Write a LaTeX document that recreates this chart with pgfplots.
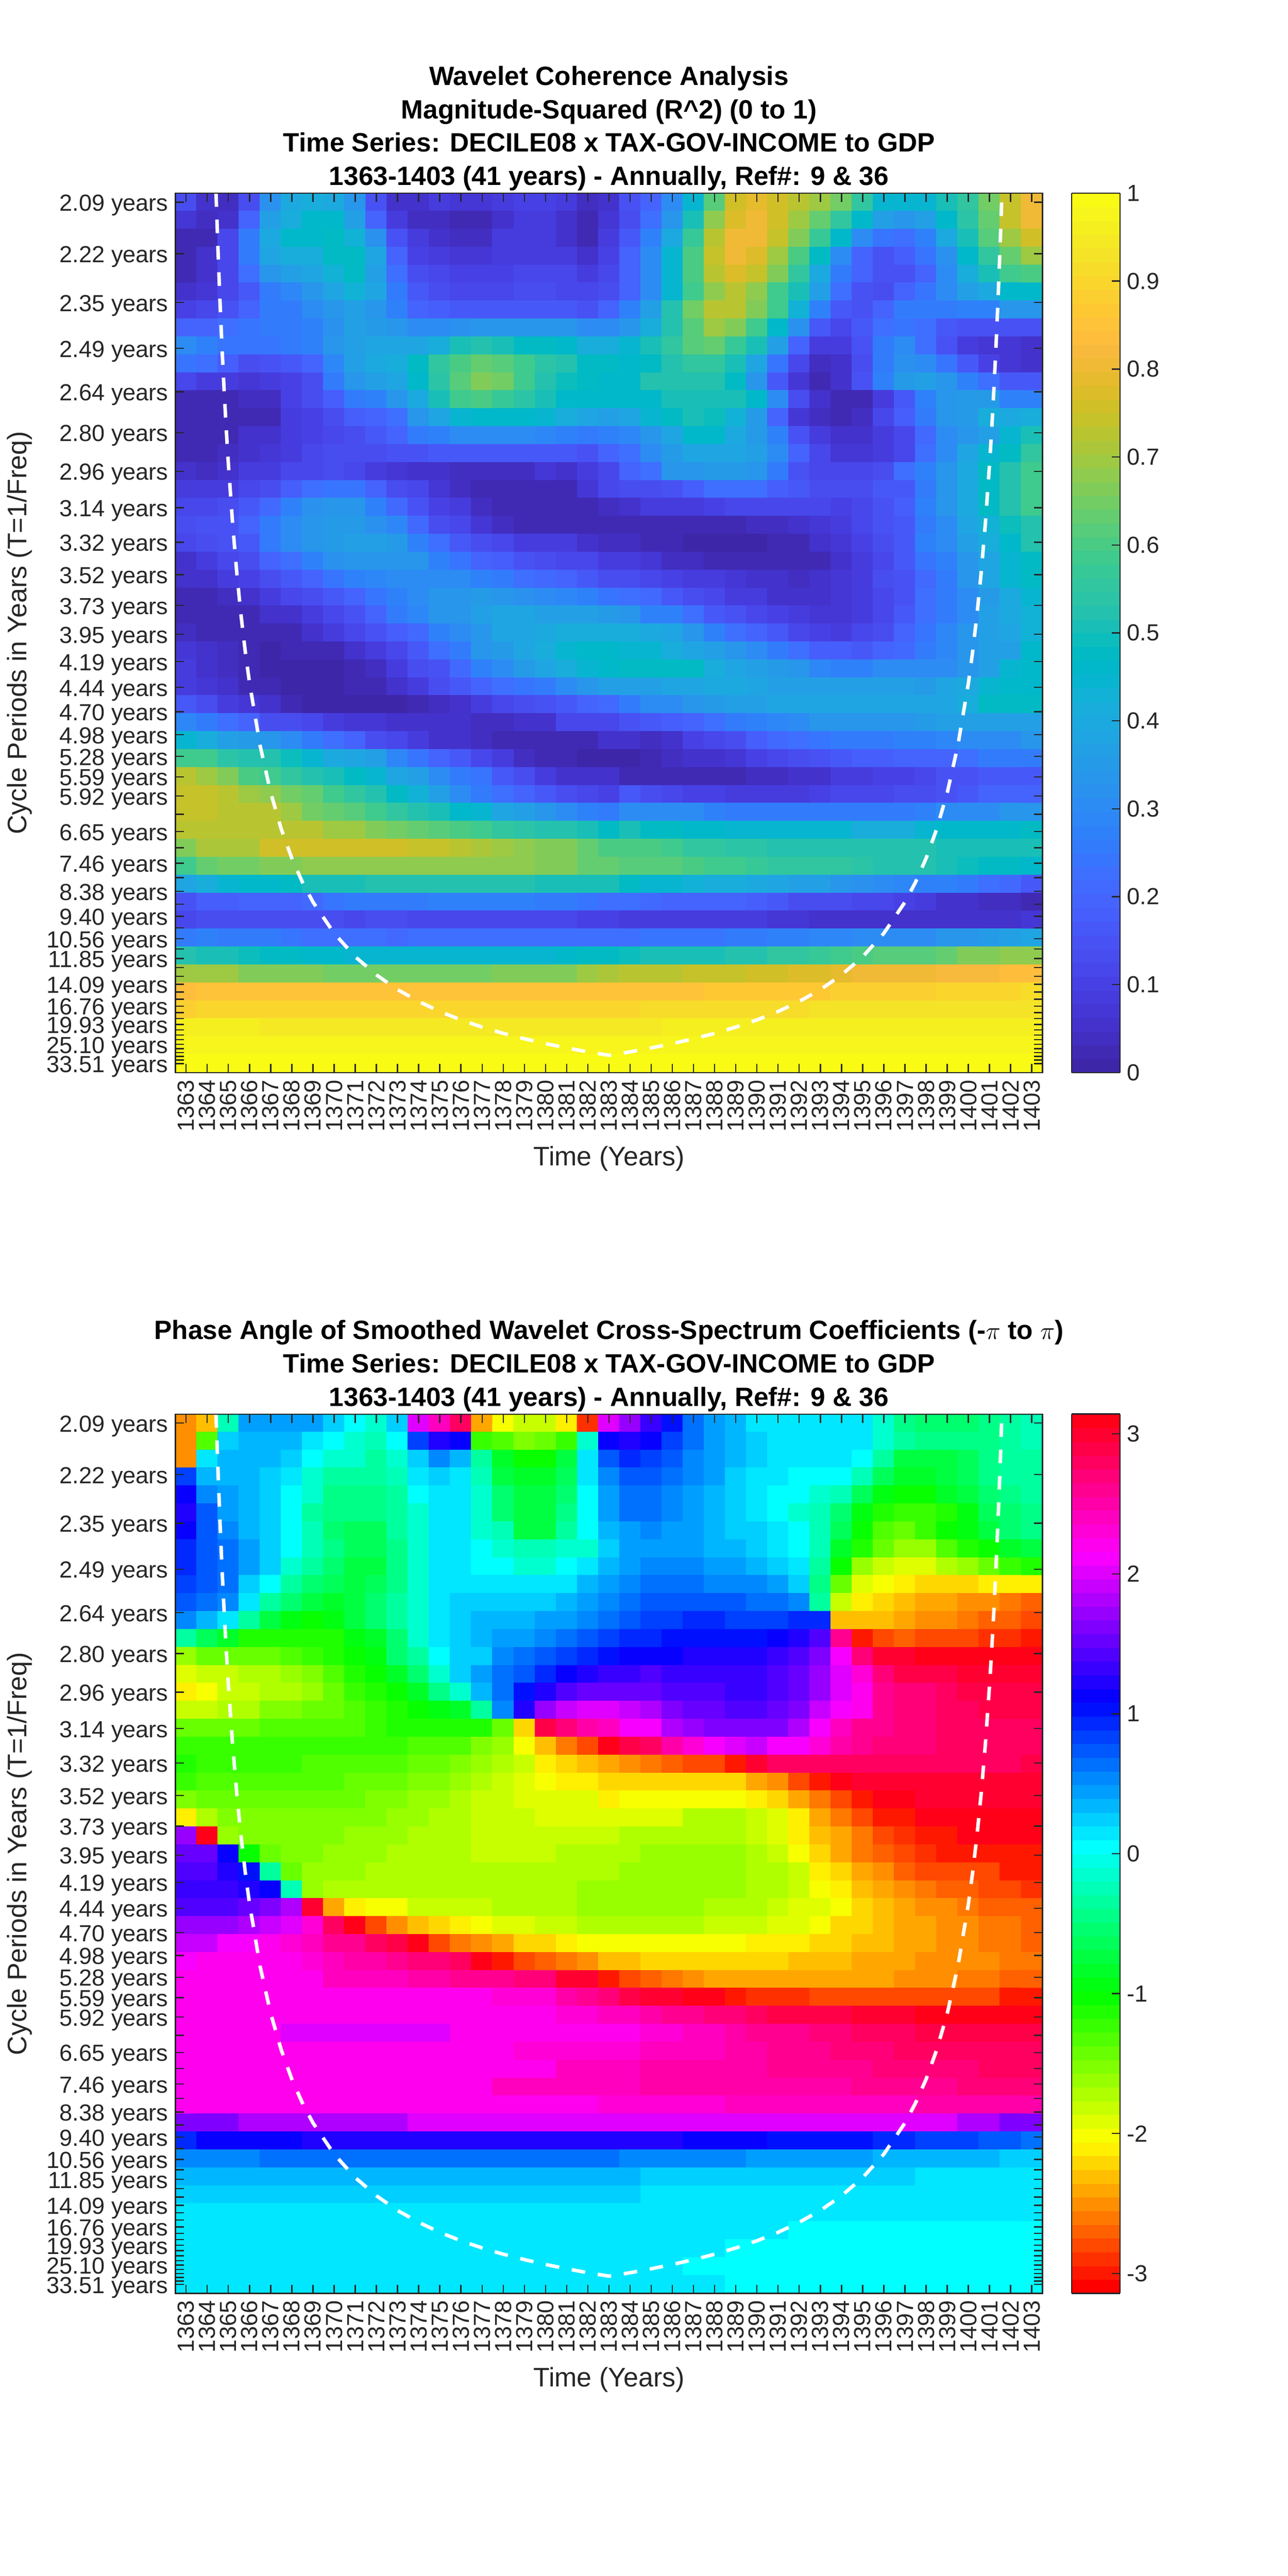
\documentclass[border=0pt]{standalone}
\usepackage{fontspec}
\setmainfont{Liberation Sans}
\usepackage{pgfplots}
\usepackage{pgfplotstable}
\pgfplotsset{compat=1.18}
\definecolor{axgray}{rgb}{0.15,0.15,0.15}

\pgfplotsset{
  colormap={parula}{rgb=(.2422,.1504,.6603) rgb=(.2504,.1650,.7076) rgb=(.2578,.1818,.7511) rgb=(.2647,.1978,.7952)
    rgb=(.2706,.2147,.8364) rgb=(.2751,.2342,.8710) rgb=(.2783,.2559,.8991) rgb=(.2803,.2782,.9221)
    rgb=(.2813,.3006,.9414) rgb=(.2810,.3228,.9579) rgb=(.2795,.3447,.9717) rgb=(.2760,.3667,.9829)
    rgb=(.2699,.3892,.9906) rgb=(.2602,.4123,.9952) rgb=(.2440,.4358,.9988) rgb=(.2206,.4603,.9973)
    rgb=(.1963,.4847,.9892) rgb=(.1834,.5074,.9798) rgb=(.1786,.5289,.9682) rgb=(.1764,.5499,.9520)
    rgb=(.1687,.5703,.9359) rgb=(.1540,.5902,.9218) rgb=(.1460,.6091,.9079) rgb=(.1380,.6276,.8973)
    rgb=(.1248,.6459,.8883) rgb=(.1113,.6635,.8763) rgb=(.0952,.6798,.8598) rgb=(.0689,.6948,.8394)
    rgb=(.0297,.7082,.8163) rgb=(.0036,.7203,.7917) rgb=(.0067,.7312,.7660) rgb=(.0433,.7411,.7394)
    rgb=(.0964,.7500,.7120) rgb=(.1408,.7584,.6842) rgb=(.1717,.7670,.6554) rgb=(.1938,.7758,.6251)
    rgb=(.2161,.7843,.5923) rgb=(.2470,.7918,.5567) rgb=(.2906,.7973,.5188) rgb=(.3406,.8008,.4789)
    rgb=(.3909,.8029,.4354) rgb=(.4456,.8024,.3909) rgb=(.5044,.7993,.3480) rgb=(.5616,.7942,.3045)
    rgb=(.6174,.7876,.2612) rgb=(.6720,.7793,.2227) rgb=(.7242,.7698,.1910) rgb=(.7738,.7598,.1646)
    rgb=(.8203,.7498,.1535) rgb=(.8634,.7406,.1596) rgb=(.9035,.7330,.1774) rgb=(.9393,.7288,.2100)
    rgb=(.9728,.7298,.2394) rgb=(.9956,.7434,.2371) rgb=(.9970,.7659,.2199) rgb=(.9952,.7861,.1993)
    rgb=(.9892,.8134,.1885) rgb=(.9786,.8393,.1778) rgb=(.9676,.8639,.1650) rgb=(.9610,.8890,.1535)
    rgb=(.9597,.9135,.1423) rgb=(.9628,.9373,.1265) rgb=(.9691,.9606,.1064) rgb=(.9769,.9839,.0805)},
  colormap={hsvraw}{rgb255(0pt)=(255,0,0) rgb255(60pt)=(255,255,0) rgb255(120pt)=(0,255,0) rgb255(180pt)=(0,255,255) rgb255(240pt)=(0,0,255) rgb255(300pt)=(255,0,255) rgb255(354.375pt)=(255,0,24)},
  colormap={hsv64}{samples of colormap=(64 of hsvraw)},
  colormap access=piecewise constant,
}

% coherence in percent, rows are scales (2.09 years first), columns 1363..1403
\pgfplotstableread[header=false]{
14 6 4 14 32 40 42 40 33 15 6 6 8 7 7 9 10 10 9 4 6 15 20 30 45 62 75 79 76 72 70 65 55 45 44 44 50 55 65 74 80
7 4 6 20 36 42 46 46 36 20 8 4 4 3 3 6 8 8 5 3 7 14 22 34 50 68 77 81 76 70 63 55 46 36 34 37 46 54 63 74 81
3 3 11 26 40 46 46 48 43 32 15 8 6 4 4 8 9 9 5 3 8 17 27 40 57 73 81 81 74 66 57 46 30 24 23 27 40 50 62 70 76
2 5 11 26 38 41 42 47 47 38 20 10 9 7 7 8 8 9 8 6 10 19 30 44 60 74 80 77 70 60 47 30 20 15 18 24 32 46 55 63 69
2 6 11 22 33 36 38 43 48 36 22 13 12 10 10 10 11 12 11 9 12 19 30 45 60 72 78 74 66 55 40 25 19 15 15 19 30 42 50 58 60
5 7 11 16 26 29 33 38 43 38 26 16 14 12 12 12 13 13 12 11 14 20 30 45 58 68 72 68 59 50 36 22 15 14 20 24 30 36 40 46 46
10 12 15 20 26 26 30 34 36 34 28 20 18 17 17 17 17 17 17 15 20 28 37 52 65 73 73 67 58 43 28 16 15 20 26 26 26 27 28 33 33
20 20 22 24 25 26 28 32 36 35 33 30 30 32 33 34 34 34 34 31 31 33 42 52 62 70 66 58 46 32 16 12 16 22 24 22 17 15 15 15 15
30 27 24 24 24 25 27 33 36 38 38 38 42 50 52 51 48 48 46 42 42 45 50 55 62 64 57 51 37 20 9 9 15 26 30 22 15 9 7 7 6
24 22 18 14 15 17 20 29 36 40 41 47 55 60 63 61 58 54 52 47 47 46 48 52 55 55 50 38 24 11 4 6 14 26 32 31 24 16 10 7 5
11 9 9 7 9 10 14 25 33 37 39 46 54 62 67 65 59 53 49 47 46 46 52 52 52 52 47 33 17 7 2 5 15 27 35 36 33 27 22 16 16
3 3 3 4 4 10 14 18 25 28 33 40 50 58 60 57 54 51 46 46 46 46 46 50 50 50 50 46 30 14 6 3 3 9 17 28 33 35 35 28 27
3 3 2 3 3 9 10 14 18 20 23 33 38 44 46 46 46 44 42 38 36 38 44 47 50 49 43 35 20 7 4 2 4 11 18 25 33 35 41 40 41
3 3 3 5 5 9 10 11 14 17 20 25 27 30 30 30 30 29 28 25 28 29 33 38 46 46 40 35 28 15 8 5 5 8 11 21 30 33 36 45 51
3 3 4 5 7 9 11 13 13 14 15 15 16 16 16 16 16 17 16 15 20 23 30 35 38 38 38 36 31 20 12 7 7 9 12 22 30 38 45 48 56
5 4 5 8 9 12 12 14 12 9 7 6 5 4 4 4 4 7 6 8 12 20 23 33 34 35 35 33 25 15 11 11 11 14 22 28 33 40 48 53 58
9 9 9 11 14 18 22 24 24 20 14 12 7 4 3 2 2 3 3 7 11 13 13 15 18 22 22 22 18 17 13 13 13 17 17 25 33 40 47 53 58
12 12 13 16 21 27 32 33 33 28 21 15 10 8 4 2 2 2 2 3 4 5 8 8 9 10 11 11 11 11 11 10 12 15 18 27 33 40 47 53 58
13 15 15 20 25 30 33 35 35 32 29 21 14 11 7 4 3 2 2 2 2 2 2 2 2 2 2 4 4 5 7 9 11 15 16 26 30 38 43 49 52
11 13 15 17 25 31 33 35 37 36 35 28 22 17 14 11 9 8 8 5 4 4 3 3 1 1 1 1 3 3 5 7 10 14 16 27 31 37 41 46 52
6 9 11 14 19 23 27 32 33 33 33 33 28 24 20 18 15 14 12 11 9 8 7 4 4 3 2 2 2 2 3 6 9 12 17 24 28 33 38 44 48
5 5 8 10 13 16 20 24 27 29 30 31 31 31 28 26 22 21 20 16 14 14 12 10 9 8 7 6 5 4 5 7 9 13 15 21 25 33 38 44 47
2 2 4 5 9 11 13 16 20 24 28 30 33 34 35 33 32 31 29 27 24 22 21 16 13 11 9 8 6 6 6 7 9 11 15 22 26 30 35 40 45
2 2 2 3 5 6 9 11 15 19 25 29 33 34 37 38 38 37 37 36 35 33 28 27 23 17 15 12 10 9 7 7 9 12 16 23 26 31 37 40 43
4 2 2 2 2 3 6 9 11 15 18 21 28 30 33 38 38 40 41 41 42 41 40 38 33 28 22 20 16 12 10 9 11 13 19 24 29 33 36 38 43
7 5 4 2 1 2 3 3 5 8 12 16 22 25 33 35 39 42 44 46 46 45 45 41 39 36 33 31 26 22 18 18 16 20 21 25 29 34 36 36 46
8 6 4 2 1 1 1 1 2 4 8 13 15 21 27 31 35 38 41 44 46 47 47 47 47 41 38 36 35 33 29 28 28 30 31 30 31 34 37 44 46
9 7 5 3 2 1 1 1 2 3 6 9 13 16 20 22 24 26 30 33 36 37 37 38 39 40 40 38 37 37 36 36 37 36 36 35 38 40 45 46 46
17 13 9 7 5 2 1 1 1 1 1 2 4 6 8 11 14 15 16 19 21 25 30 31 33 35 36 37 38 38 39 39 39 39 39 39 38 41 47 47 47
29 26 22 19 14 14 11 9 7 7 5 5 5 5 4 4 5 6 11 11 12 15 16 18 20 23 25 28 29 30 33 33 34 34 33 35 36 37 37 37 37
44 42 37 35 33 30 25 22 20 14 12 8 6 5 4 2 2 2 3 3 5 6 4 6 10 12 14 18 21 23 24 25 25 26 27 28 29 31 31 31 33
59 59 54 52 52 49 44 40 38 36 29 24 20 17 11 8 4 3 3 1 1 1 3 4 5 6 7 10 11 13 15 16 18 18 20 20 20 22 25 25 25
72 69 67 60 59 56 52 50 47 44 38 36 30 26 24 16 13 9 6 5 6 3 3 3 3 3 3 4 4 5 5 8 9 10 10 12 15 15 17 17 17
74 74 72 70 68 65 63 58 55 52 48 43 37 31 26 22 20 16 13 11 10 16 14 12 10 10 9 9 9 9 10 11 11 12 13 13 15 17 19 19 20
74 74 73 73 72 70 65 63 61 58 55 52 50 46 44 38 36 33 30 28 25 30 31 31 30 28 26 26 25 25 25 25 25 26 26 27 31 31 31 33 34
72 72 72 72 72 72 72 70 70 67 65 64 62 60 58 56 54 52 52 50 48 50 48 47 46 46 45 45 44 44 44 44 42 41 41 44 46 46 46 46 48
67 71 71 71 75 75 76 76 76 76 75 74 74 73 71 70 68 67 66 63 60 60 60 58 56 56 54 54 53 53 53 52 52 52 52 52 51 51 50 51 51
59 63 65 65 67 67 68 68 68 68 68 68 68 68 68 68 68 66 66 64 64 62 62 61 60 59 58 57 56 56 55 55 54 53 52 52 51 49 47 47 46
38 42 44 46 46 48 50 50 50 52 52 52 52 52 52 52 52 51 51 51 50 47 45 44 43 42 42 40 39 37 36 33 32 30 29 28 27 25 22 21 16
15 18 18 19 19 19 21 24 25 25 25 26 27 27 27 27 27 26 25 24 23 22 21 20 20 20 19 18 16 14 13 13 12 11 10 8 6 6 4 4 2
12 13 14 13 13 13 13 13 12 13 13 12 12 11 11 11 11 11 11 10 10 9 9 9 8 8 8 8 7 7 6 6 6 6 6 6 6 6 6 6 7
26 27 26 25 25 24 23 23 22 22 21 22 22 22 22 22 22 22 22 22 22 22 24 24 24 24 25 25 27 27 29 29 30 30 31 31 33 34 35 37 38
53 51 50 49 48 47 46 46 45 44 44 44 44 44 44 44 44 45 46 47 48 49 50 51 51 51 52 52 55 55 57 58 60 62 62 62 64 66 67 68 68
70 70 69 66 66 66 66 65 65 65 65 65 65 65 65 67 67 67 67 69 71 72 73 73 74 74 74 75 76 77 78 79 80 80 80 81 82 82 82 83 83
84 85 85 85 85 85 85 85 85 85 85 85 85 85 85 85 85 85 85 85 85 85 85 85 85 86 86 87 87 87 87 88 88 89 89 89 90 90 90 90 91
89 90 90 90 90 90 90 90 90 90 90 90 90 90 90 90 90 90 90 90 90 90 91 91 91 92 92 92 92 92 93 93 93 93 93 93 93 93 93 93 93
96 96 96 96 95 95 95 95 95 95 95 95 95 95 95 95 95 95 95 95 95 95 95 96 96 96 96 96 96 96 96 96 96 96 96 96 96 96 96 96 96
98 98 98 98 98 98 98 98 98 98 98 98 98 98 98 98 98 98 98 98 98 98 98 98 98 98 98 98 98 98 98 98 98 98 98 98 98 98 98 98 98
99 99 99 99 99 99 99 99 99 99 99 99 99 99 99 99 99 99 99 99 99 99 99 99 99 99 99 99 99 99 99 99 99 99 99 99 99 99 99 99 99
}\tabcoh

% phase in tenths of a radian
\pgfplotstableread[header=false]{
-25 -23 -2 4 4 4 4 2 0 -1 2 20 24 28 -24 -20 -18 -18 -21 -29 20 17 13 10 6 4 3 1 1 1 1 1 1 -1 -4 -5 -5 -5 -4 -3 -2
-25 -13 2 3 3 3 1 0 -1 -2 0 8 12 11 -12 -13 -15 -14 -12 -1 11 12 11 8 6 4 3 2 1 1 1 1 1 -1 -3 -4 -4 -4 -4 -3 -2
-25 1 3 3 3 2 0 -1 -1 -3 -1 2 5 3 -3 -8 -10 -10 -7 1 7 9 8 7 5 4 3 2 1 1 1 1 0 -3 -7 -7 -7 -6 -4 -3 -3
8 3 3 3 2 1 -1 -3 -3 -3 -2 1 2 1 -2 -7 -8 -8 -6 1 5 7 7 6 5 4 2 1 1 0 0 0 -2 -6 -8 -8 -7 -6 -4 -3 -3
11 5 4 3 2 0 -1 -4 -4 -4 -3 0 1 1 -1 -5 -7 -7 -5 0 4 6 6 5 4 3 2 1 0 0 -1 -2 -6 -9 -10 -10 -8 -7 -5 -4 -3
12 7 4 3 2 0 -3 -4 -4 -4 -3 -1 1 1 -1 -5 -7 -7 -4 0 4 6 6 5 4 3 2 1 0 -1 -2 -5 -9 -11 -12 -12 -11 -9 -6 -5 -4
11 7 5 3 2 0 -2 -5 -6 -6 -3 -1 1 1 -1 -2 -7 -7 -3 0 3 4 5 4 4 3 2 2 1 0 -2 -6 -10 -13 -14 -12 -10 -9 -7 -5 -4
9 7 6 4 2 0 -2 -4 -6 -6 -4 -1 1 1 0 -1 -2 -2 -1 -1 2 4 4 4 4 3 3 2 1 0 -2 -8 -11 -14 -16 -16 -13 -11 -10 -8 -7
9 7 6 4 2 -1 -3 -5 -7 -7 -4 -1 1 1 0 0 -1 -1 0 1 3 4 5 5 5 4 4 3 2 1 -3 -10 -16 -18 -19 -19 -17 -16 -14 -12 -11
8 7 6 2 0 -3 -5 -6 -7 -6 -4 -1 1 1 1 1 1 1 1 3 4 5 6 6 6 5 5 5 4 2 -4 -14 -19 -20 -21 -22 -22 -22 -21 -21 -21
7 6 5 1 -3 -5 -7 -8 -7 -5 -3 -1 1 2 2 2 2 2 3 4 5 6 7 7 7 7 7 6 6 5 -3 -18 -21 -22 -23 -24 -24 -25 -25 -26 -27
5 3 1 -3 -7 -9 -10 -9 -7 -5 -3 -1 1 2 3 3 3 4 4 5 6 7 8 8 9 9 8 8 8 9 9 -23 -23 -23 -24 -25 -25 -26 -27 -27 -28
-3 -6 -8 -11 -11 -11 -11 -11 -9 -8 -5 -1 1 2 3 4 4 5 6 7 8 9 9 10 10 10 10 10 11 12 14 26 -30 -28 -27 -28 -28 -28 -29 -29 -30
-16 -14 -14 -14 -14 -13 -12 -11 -10 -9 -5 -3 0 2 2 5 6 7 8 9 10 11 11 11 12 12 12 12 13 14 16 21 27 30 30 31 31 31 31 31 31
-19 -18 -18 -17 -17 -16 -15 -13 -11 -10 -8 -5 -1 2 4 6 7 9 11 12 13 13 14 13 13 13 13 13 14 15 17 20 23 27 29 29 29 30 30 30 30
-21 -20 -18 -18 -17 -17 -16 -14 -12 -11 -10 -8 -4 -1 3 6 10 12 14 15 15 15 15 14 14 14 13 13 14 15 17 20 22 26 27 27 28 29 29 29 29
-18 -18 -17 -17 -15 -15 -14 -14 -13 -12 -11 -10 -9 -8 -3 5 12 17 19 20 20 19 18 16 15 15 14 14 15 16 19 21 22 26 27 27 28 28 29 29 29
-14 -14 -14 -14 -13 -13 -13 -13 -13 -12 -11 -11 -11 -11 -11 -14 -22 29 27 25 24 21 21 18 17 16 16 16 16 18 21 24 26 26 27 27 28 28 28 28 28
-12 -12 -12 -12 -12 -12 -12 -12 -12 -12 -12 -13 -13 -13 -15 -16 -20 -23 -26 -28 31 29 28 25 23 21 20 19 21 21 23 25 26 27 27 27 28 28 28 28 28
-11 -12 -12 -12 -12 -12 -13 -13 -13 -13 -13 -14 -14 -15 -16 -17 -18 -21 -22 -23 -24 -25 -26 -27 -28 -28 -30 30 28 28 28 28 28 28 28 28 28 28 28 28 29
-12 -13 -13 -13 -13 -13 -13 -13 -14 -14 -14 -15 -15 -16 -17 -18 -19 -20 -21 -21 -22 -22 -22 -22 -22 -22 -22 -24 -25 -28 -30 31 30 30 30 30 30 30 30 30 30
-15 -14 -14 -14 -14 -14 -14 -14 -14 -15 -15 -16 -16 -17 -18 -18 -19 -19 -19 -19 -21 -20 -20 -20 -20 -20 -20 -21 -22 -24 -26 -28 -30 31 31 30 30 30 30 30 30
-21 -17 -15 -15 -15 -15 -15 -15 -15 -15 -16 -16 -17 -17 -18 -18 -18 -19 -19 -19 -19 -19 -19 -19 -17 -17 -17 -18 -19 -21 -24 -26 -28 -30 -30 31 31 31 31 31 31
17 31 -16 -15 -15 -15 -15 -15 -16 -16 -16 -17 -17 -17 -18 -18 -18 -18 -18 -18 -18 -17 -17 -17 -17 -17 -17 -18 -19 -21 -23 -24 -26 -28 -29 -30 -30 31 31 31 31
15 15 11 -10 -14 -15 -15 -16 -16 -16 -17 -17 -17 -17 -18 -18 -18 -18 -17 -17 -17 -17 -16 -16 -16 -16 -16 -17 -18 -20 -22 -24 -26 -27 -28 -29 -30 -30 -30 -30 -30
14 14 12 10 -3 -14 -16 -16 -16 -17 -17 -17 -17 -17 -17 -17 -17 -17 -17 -17 -17 -16 -16 -16 -16 -16 -16 -17 -17 -18 -21 -22 -24 -25 -27 -28 -28 -28 -28 -30 -30
13 13 13 12 11 -2 -16 -17 -17 -17 -17 -17 -17 -17 -17 -17 -17 -17 -17 -16 -16 -16 -16 -16 -16 -16 -16 -17 -17 -18 -20 -21 -23 -24 -25 -26 -27 -27 -28 -28 -29
14 14 14 15 16 18 30 -24 -21 -20 -20 -18 -18 -18 -18 -17 -17 -17 -17 -16 -16 -16 -16 -16 -16 -17 -17 -17 -18 -19 -19 -20 -22 -23 -24 -25 -25 -26 -27 -27 -27
17 17 17 18 19 20 23 28 31 -28 -25 -23 -22 -21 -20 -19 -19 -18 -18 -17 -17 -17 -17 -17 -17 -18 -18 -18 -19 -19 -20 -22 -22 -23 -24 -24 -25 -25 -26 -26 -27
19 19 21 21 22 23 24 26 26 28 29 31 -28 -26 -25 -24 -22 -22 -21 -20 -20 -20 -20 -20 -20 -20 -20 -21 -21 -21 -22 -22 -23 -23 -24 -24 -25 -25 -26 -26 -27
21 22 22 22 22 22 23 24 25 25 26 27 27 28 31 -30 -28 -27 -26 -25 -23 -23 -22 -22 -22 -22 -22 -22 -22 -23 -23 -23 -24 -24 -24 -25 -25 -25 -25 -26 -26
22 22 22 22 22 22 22 24 24 24 24 25 25 26 26 26 27 27 30 30 -30 -28 -27 -26 -25 -24 -24 -24 -24 -24 -24 -24 -24 -24 -25 -25 -25 -26 -26 -27 -27
22 22 22 22 22 22 22 22 22 22 22 22 22 22 22 23 23 23 25 26 27 29 30 30 31 31 -30 -29 -29 -29 -28 -28 -28 -28 -28 -28 -28 -28 -28 -30 -30
22 22 22 22 22 22 22 22 22 22 22 22 22 22 22 22 22 22 23 23 24 24 25 26 26 27 27 28 29 29 29 29 30 30 30 31 31 31 31 31 31
22 22 22 22 22 20 20 20 20 20 20 20 20 22 22 22 22 22 22 22 22 22 23 23 24 24 25 26 26 26 27 27 28 28 28 29 29 29 29 29 29
22 22 22 22 22 22 22 22 22 22 22 22 22 22 22 22 23 23 23 23 23 23 24 24 24 24 25 25 26 26 26 27 27 27 28 28 28 28 28 28 28
22 22 22 22 22 22 22 22 22 22 22 22 22 22 22 22 22 22 24 24 24 24 25 25 25 25 25 25 26 26 26 26 26 27 27 27 27 27 28 28 28
22 22 22 22 22 22 22 22 22 22 22 22 22 22 22 24 24 24 24 24 24 24 25 25 25 25 25 25 25 25 25 25 26 26 26 26 26 27 27 27 27
22 22 22 22 22 22 22 22 22 22 22 22 22 22 22 22 22 22 22 22 23 23 23 23 23 23 24 24 24 24 24 24 24 24 24 25 25 25 25 25 25
16 16 16 18 18 18 18 18 18 18 18 20 20 20 20 20 20 20 20 20 20 20 20 20 20 20 20 20 20 20 20 20 20 20 20 20 20 18 18 16 16
9 11 11 11 11 11 12 12 12 12 12 12 12 12 12 12 12 12 12 12 12 12 12 12 11 11 11 11 10 10 10 10 10 9 9 8 8 8 7 7 6
5 5 5 5 6 6 6 6 6 6 6 6 6 6 6 6 6 6 6 6 6 5 5 5 5 5 5 4 4 4 4 4 4 3 3 3 3 3 3 2 2
3 3 3 3 3 3 3 3 3 3 3 3 3 3 3 3 3 3 3 3 3 3 2 2 2 2 2 2 2 2 2 2 2 2 2 1 1 1 1 1 1
2 2 2 2 2 2 2 2 2 2 2 2 2 2 2 2 2 2 2 2 2 2 1 1 1 1 1 1 1 1 1 1 1 1 1 1 1 1 1 1 1
1 1 1 1 1 1 1 1 1 1 1 1 1 1 1 1 1 1 1 1 1 1 1 1 1 1 1 1 1 1 1 1 1 1 1 1 1 1 1 1 1
1 1 1 1 1 1 1 1 1 1 1 1 1 1 1 1 1 1 1 1 1 1 1 1 1 1 1 1 1 0 0 0 0 0 0 0 0 0 0 0 0
1 1 1 1 1 1 1 1 1 1 1 1 1 1 1 1 1 1 1 1 1 1 1 1 1 1 0 0 0 0 0 0 0 0 0 0 0 0 0 0 0
1 1 1 1 1 1 1 1 1 1 1 1 1 1 1 1 1 1 1 1 1 1 1 1 0 0 0 0 0 0 0 0 0 0 0 0 0 0 0 0 0
1 1 1 1 1 1 1 1 1 1 1 1 1 1 1 1 1 1 1 1 1 1 1 1 1 1 0 0 0 0 0 0 0 0 0 0 0 0 0 0 0
}\tabphase

% long form for the matrix plots
\newcommand\buildplot[3]{%
  \gdef#2{}%
  \foreach \r in {0,...,48}{%
    \foreach \c in {0,...,40}{%
      \pgfplotstablegetelem{\r}{[index]\c}\of{#1}%
      \pgfmathtruncatemacro\yr{1363+\c}%
      \xdef#2{#2 (\yr,\r) [\pgfplotsretval]}%
    }%
  }%
  \xdef#3{\noexpand\addplot[matrix plot*,mesh/cols=41,point meta=explicit] coordinates {#2};}%
}

\pgfplotsset{wavelet/.style={
  scale only axis, width=420.8pt, height=426.8pt,
  xmin=1362.5, xmax=1403.5, ymin=-0.5, ymax=48.5, y dir=reverse,
  axis on top, tick align=inside, major tick length=4.2pt,
  axis line style={color=axgray,line width=0.6pt},
  every tick/.style={color=axgray,line width=0.6pt},
  xtick={1363,1364,...,1403},
  ytick={0,2.874,5.586,8.146,10.563,12.843,14.996,17.028,18.946,20.756,22.465,24.078,25.6,27.037,28.393,29.673,30.882,32.022,33.098,34.114,35.073,35.978,36.833,37.639,38.4,39.119,39.797,40.437,41.041,41.611,42.149,42.657,43.137,43.589,44.016,44.42,44.8,45.159,45.498,45.818,46.121,46.406,46.675,46.928,47.168,47.395,47.608,47.81,48},
  yticklabels={2.09 years,2.22 years,2.35 years,2.49 years,2.64 years,2.80 years,2.96 years,3.14 years,3.32 years,3.52 years,3.73 years,3.95 years,4.19 years,4.44 years,4.70 years,4.98 years,5.28 years,5.59 years,5.92 years,,6.65 years,,7.46 years,,8.38 years,,9.40 years,,10.56 years,,11.85 years,,,14.09 years,,,16.76 years,,,19.93 years,,,,25.10 years,,,,,33.51 years},
  /pgf/number format/assume math mode=true,
  /pgf/number format/1000 sep={},
  xticklabel style={rotate=90,anchor=east,font=\fontsize{11.3}{13}\selectfont,color=axgray},
  yticklabel style={font=\fontsize{11.3}{13}\selectfont,color=axgray,yshift=-1.5pt},
  xlabel={Time (Years)},
  ylabel={Cycle Periods in Years (T=1/Freq)},
  xlabel style={at={(axis description cs:0.5,-0.098)},anchor=center,font=\fontsize{13}{15}\selectfont,color=axgray},
  ylabel style={at={(axis description cs:-0.18,0.5)},anchor=center,font=\fontsize{13}{15}\selectfont,color=axgray},
  title style={at={(0.5,1)},anchor=south,yshift=-5pt,inner sep=0pt,align=center,font=\fontsize{12.85}{16.2}\selectfont\bfseries},
}}
\pgfplotsset{barstyle/.style={
  colorbar sampled,
  colorbar style={samples=65,scale only axis,width=23.4pt,height=426.8pt,
    at={(parent axis.north east)},anchor=north west,xshift=5.66pt,
    axis on top,tick align=inside,major tick length=4pt,
    axis line style={color=axgray,line width=0.6pt},
    every tick/.style={color=axgray,line width=0.6pt},
    ytick pos=right,yticklabel pos=right,
    yticklabel style={font=\fontsize{11.3}{13}\selectfont,color=axgray},
    #1},
}}

\begin{document}%
\buildplot{\tabcoh}{\coordscoh}{\plotcoh}%
\buildplot{\tabphase}{\coordsphase}{\plotphase}%
\begin{tikzpicture}
\path[use as bounding box] (0,0) rectangle (625pt,1250.4pt);
\begin{axis}[wavelet,at={(85.2pt,729.8pt)},anchor=south west,
  title={Wavelet Coherence Analysis\\Magnitude-Squared (R\textasciicircum 2) (0 to 1)\\Time Series: DECILE08 x TAX-GOV-INCOME to GDP\\1363-1403 (41 years) - Annually, Ref\#: 9 \& 36},
  colormap name=parula,point meta min=0,point meta max=100,
  barstyle={ytick={0,10,...,100},yticklabels={0,0.1,0.2,0.3,0.4,0.5,0.6,0.7,0.8,0.9,1}}]
\plotcoh
\addplot[white,line width=1.7pt,dash pattern=on 6.6pt off 6.2pt] coordinates {
(1364.415,-0.5)(1364.5,2.39)(1364.6,5.44)(1364.7,8.13)(1364.8,10.52)(1364.9,12.67)(1365,14.59)(1365.2,17.92)(1365.4,20.69)(1365.6,23.04)(1365.8,25.05)(1366,26.79)(1366.5,30.28)(1367,32.9)(1367.5,34.93)(1368,36.56)(1368.5,37.89)(1369,39)(1370,40.74)(1371,42.05)(1372,43.06)(1373,43.88)(1374,44.54)(1375,45.1)(1376,45.57)(1377,45.97)(1378,46.32)(1379,46.62)(1380,46.89)(1381,47.13)(1382,47.35)(1383,47.54)
(1384,47.35)(1385,47.13)(1386,46.89)(1387,46.62)(1388,46.32)(1389,45.97)(1390,45.57)(1391,45.1)(1392,44.54)(1393,43.88)(1394,43.06)(1395,42.05)(1396,40.74)(1397,39)(1397.5,37.89)(1398,36.56)(1398.5,34.93)(1399,32.9)(1399.5,30.28)(1400,26.79)(1400.2,25.05)(1400.4,23.04)(1400.6,20.69)(1400.8,17.92)(1401,14.59)(1401.1,12.67)(1401.2,10.52)(1401.3,8.13)(1401.4,5.44)(1401.5,2.39)(1401.57,0)};
\end{axis}
\begin{axis}[wavelet,at={(85.2pt,137.2pt)},anchor=south west,
  title={Phase Angle of Smoothed Wavelet Cross-Spectrum Coefficients (-$\pi$ to $\pi$)\\Time Series: DECILE08 x TAX-GOV-INCOME to GDP\\1363-1403 (41 years) - Annually, Ref\#: 9 \& 36},
  colormap name=hsv64,point meta min=-31.416,point meta max=31.416,
  barstyle={ytick={-30,-20,-10,0,10,20,30},yticklabels={-3,-2,-1,0,1,2,3}}]
\plotphase
\addplot[white,line width=1.7pt,dash pattern=on 6.6pt off 6.2pt] coordinates {
(1364.415,-0.5)(1364.5,2.39)(1364.6,5.44)(1364.7,8.13)(1364.8,10.52)(1364.9,12.67)(1365,14.59)(1365.2,17.92)(1365.4,20.69)(1365.6,23.04)(1365.8,25.05)(1366,26.79)(1366.5,30.28)(1367,32.9)(1367.5,34.93)(1368,36.56)(1368.5,37.89)(1369,39)(1370,40.74)(1371,42.05)(1372,43.06)(1373,43.88)(1374,44.54)(1375,45.1)(1376,45.57)(1377,45.97)(1378,46.32)(1379,46.62)(1380,46.89)(1381,47.13)(1382,47.35)(1383,47.54)
(1384,47.35)(1385,47.13)(1386,46.89)(1387,46.62)(1388,46.32)(1389,45.97)(1390,45.57)(1391,45.1)(1392,44.54)(1393,43.88)(1394,43.06)(1395,42.05)(1396,40.74)(1397,39)(1397.5,37.89)(1398,36.56)(1398.5,34.93)(1399,32.9)(1399.5,30.28)(1400,26.79)(1400.2,25.05)(1400.4,23.04)(1400.6,20.69)(1400.8,17.92)(1401,14.59)(1401.1,12.67)(1401.2,10.52)(1401.3,8.13)(1401.4,5.44)(1401.5,2.39)(1401.57,0)};
\end{axis}
\end{tikzpicture}
\end{document}
